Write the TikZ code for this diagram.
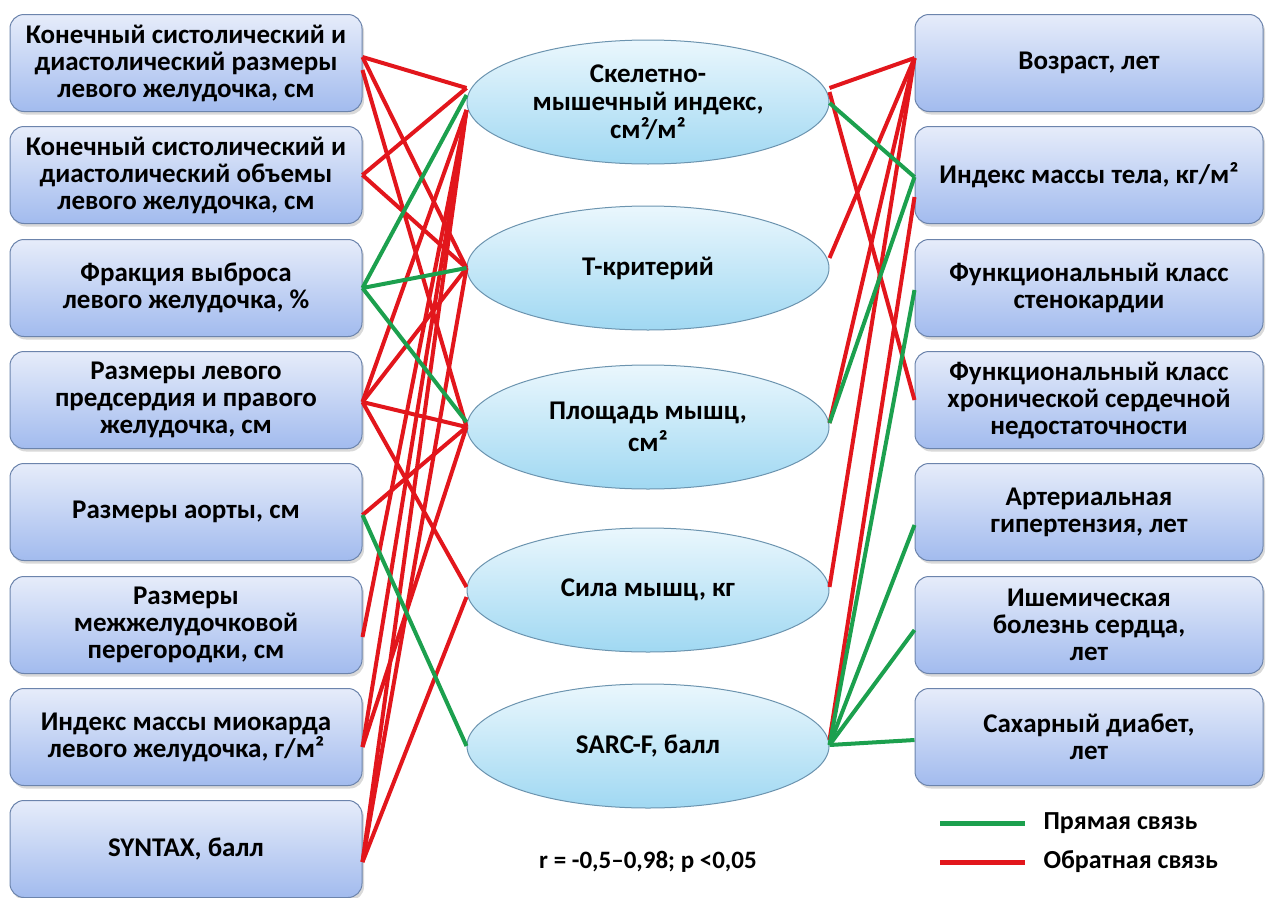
\documentclass[tikz,border=0pt]{standalone}
\usepackage{fontspec}
\setmainfont{Carlito}
\usetikzlibrary{shapes.geometric,shadows}
\definecolor{colR}{RGB}{226,22,28}
\definecolor{colG}{RGB}{28,160,78}
\definecolor{boxTop}{RGB}{230,236,250}
\definecolor{boxBot}{RGB}{162,187,238}
\definecolor{boxLine}{RGB}{108,132,172}
\definecolor{ellTop}{RGB}{234,247,253}
\definecolor{ellBot}{RGB}{160,216,242}
\definecolor{ellLine}{RGB}{108,148,175}
\tikzstyle{lbox}=[rectangle, rounded corners=14pt, draw=boxLine, line width=1pt, top color=boxTop, bottom color=boxBot, minimum width=352pt, minimum height=97pt, align=center, font=\bfseries\fontsize{27}{27}\selectfont, drop shadow={opacity=0.3, shadow xshift=2pt, shadow yshift=-3pt}]
\tikzstyle{rbox}=[lbox, minimum width=348pt]
\tikzstyle{ell}=[ellipse, draw=ellLine, line width=1pt, top color=ellTop, bottom color=ellBot, minimum width=362pt, minimum height=124pt, inner sep=0pt, align=center, font=\bfseries\fontsize{27}{28}\selectfont]
\tikzstyle{edge}=[line width=4pt]
\tikzstyle{redge}=[edge,colR]
\tikzstyle{gedge}=[edge,colG]
\tikzstyle{legtext}=[anchor=west, font=\bfseries\fontsize{26}{26}\selectfont]

\begin{document}
\begin{tikzpicture}[x=1pt, y=-1pt]
	\useasboundingbox (0,0) rectangle (1266,897);

	%%% Left column
	\node[lbox] (l1) at (186, 63) {Конечный систолический и\\диастолический размеры\\левого желудочка, см};
	\node[lbox] (l2) at (186,175) {Конечный систолический и\\диастолический объемы\\левого желудочка, см};
	\node[lbox] (l3) at (186,288) {Фракция выброса\\левого желудочка, \%};
	\node[lbox] (l4) at (186,400) {Размеры левого\\предсердия и правого\\желудочка, см};
	\node[lbox] (l5) at (186,512) {Размеры аорты, см};
	\node[lbox] (l6) at (186,625) {Размеры\\межжелудочковой\\перегородки, см};
	\node[lbox] (l7) at (186,737) {Индекс массы миокарда\\левого желудочка, г/м²};
	\node[lbox] (l8) at (186,849) {SYNTAX, балл};

	%%% Center
	\node[ell] (e1) at (648,102) {Скелетно-\\мышечный индекс,\\см²/м²};
	\node[ell] (e2) at (648,268) {Т-критерий};
	\node[ell] (e3) at (648,427) {Площадь мышц,\\[4pt]см²};
	\node[ell] (e4) at (648,590) {Сила мышц, кг};
	\node[ell] (e5) at (648,746) {SARC-F, балл};

	%%% Right column
	\node[rbox] (r1) at (1089, 63) {Возраст, лет};
	\node[rbox] (r2) at (1089,175) {Индекс массы тела, кг/м²};
	\node[rbox] (r3) at (1089,288) {Функциональный класс\\стенокардии};
	\node[rbox] (r4) at (1089,400) {Функциональный класс\\хронической сердечной\\недостаточности};
	\node[rbox] (r5) at (1089,512) {Артериальная\\гипертензия, лет};
	\node[rbox] (r6) at (1089,625) {Ишемическая\\болезнь сердца,\\лет};
	\node[rbox] (r7) at (1089,737) {Сахарный диабет,\\лет};

	%%% Left links
	% Inverse
	\draw[redge] ([yshift=6pt]l1.east)edge([yshift=14pt]e1.west) ([yshift=6pt]l1.east)edge(e2.west) ([yshift=-7pt]l1.east)edge(e3.west);
	\draw[redge] (l2.east)edge([yshift=14pt]e1.west) (l2.east)edge(e2.west);
	\draw[redge] ([yshift=-2pt]l4.east)edge([yshift=-8pt]e1.west) ([yshift=-2pt]l4.east)edge(e2.west) ([yshift=-2pt]l4.east)edge(e3.west) ([yshift=-2pt]l4.east)edge([yshift=3pt]e4.west);
	\draw[redge] ([yshift=-3pt]l5.east)edge(e3.west);
	\draw[redge] ([yshift=-12pt]l6.east)edge([yshift=-8pt]e1.west);
	\draw[redge] ([yshift=-10pt]l7.east)edge([yshift=-8pt]e1.west) ([yshift=-10pt]l7.east)edge(e3.west);
	\draw[redge] ([yshift=-13pt]l8.east)edge([yshift=-8pt]e1.west) ([yshift=-13pt]l8.east)edge(e2.west) ([yshift=-13pt]l8.east)edge([yshift=-7pt]e4.west);
	% Direct
	\draw[gedge] (l3.east)edge([yshift=7pt]e1.west) (l3.east)edge(e2.west) (l3.east)edge([yshift=5pt]e3.west);
	\draw[gedge] ([yshift=-3pt]l5.east)edge(e5.west);

	%%% Right links
	% Inverse
	\draw[redge] ([yshift=14pt]e1.east)edge([yshift=5pt]r1.west) ([yshift=10pt]e1.east)edge(r4.west);
	\draw[redge] ([yshift=10pt]e2.east)edge([yshift=5pt]r1.west);
	\draw[redge] ([yshift=4pt]e3.east)edge([yshift=5pt]r1.west);
	\draw[redge] ([yshift=3pt]e4.east)edge([yshift=5pt]r1.west);
	\draw[redge] ([yshift=6pt]e5.east)edge([yshift=-22pt]r2.west);
	% Direct
	\draw[gedge] ([yshift=-1pt]e1.east)edge([yshift=-2pt]r2.west);
	\draw[gedge] ([yshift=4pt]e3.east)edge([yshift=-2pt]r2.west);
	\draw[gedge] ([yshift=1pt]e5.east)edge([yshift=-2pt]r3.west) ([yshift=1pt]e5.east)edge([yshift=-13pt]r5.west) ([yshift=1pt]e5.east)edge([yshift=-5pt]r6.west) ([yshift=1pt]e5.east)edge([yshift=-3pt]r7.west);

	%%% Legend
	\coordinate (g1) at (940,823);
	\coordinate (g2) at (1025,823);
	\coordinate (o1) at (940,862);
	\coordinate (o2) at (1025,862);
	\draw[gedge, line width=5pt] (g1)--(g2);
	\draw[redge, line width=5pt] (o1)--(o2);
	\node[legtext] (tg) at (1040,823) {Прямая связь};
	\node[legtext] (to) at (1040,862) {Обратная связь};

	\node[font=\bfseries\fontsize{25}{26}\selectfont] (stat) at (648,862) {r = -0,5–0,98; p <0,05};
\end{tikzpicture}
\end{document}
